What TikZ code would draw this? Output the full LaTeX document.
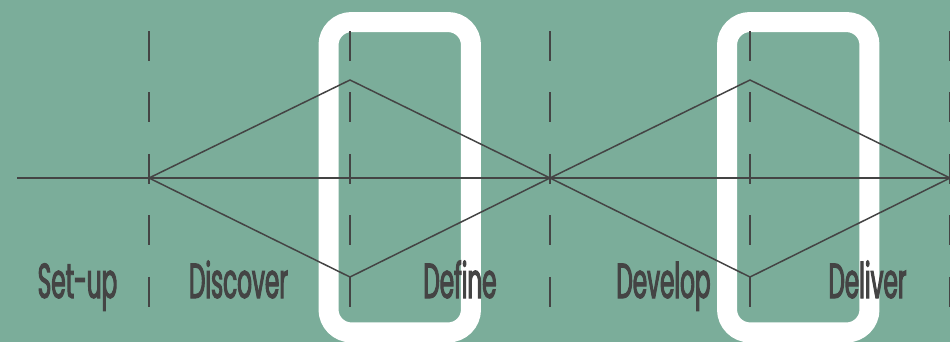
\documentclass[tikz,border=0pt]{standalone}
\usepackage{fontspec}
\setmainfont{Poppins}[FakeStretch=0.47, FakeBold=2]
\definecolor{bggreen}{HTML}{7BAD9A}
\definecolor{inkgray}{HTML}{444444}
\begin{document}
\begin{tikzpicture}[
  x=0.02cm, y=-0.02cm,
  line/.style={draw=inkgray, line width=0.85pt},
  divider/.style={line, dash pattern=on 0.6cm off 0.63cm},
  focus/.style={draw=white, line width=0.4cm, rounded corners=0.46cm, minimum width=2.85cm, minimum height=6.21cm, inner sep=0pt},
  phase/.style={anchor=base, text=inkgray, font=\fontsize{28}{30}\selectfont, inner sep=0pt}
]

  % Background
  \fill[bggreen] (0,0) rectangle (950,342);
  \useasboundingbox (0,0) rectangle (950,342);
  \clip (0,0) rectangle (950,342);

  % Focus frames
  \node[focus] (defineframe) at (399.75,177.25) {};
  \node[focus] (deliverframe) at (798.25,177.25) {};

  % Points
  \coordinate (start) at (17,178);
  \coordinate (open1) at (149,178);
  \coordinate (top1) at (350,80);
  \coordinate (bottom1) at (350,277);
  \coordinate (mid) at (550,178);
  \coordinate (top2) at (750,80);
  \coordinate (bottom2) at (750,277);
  \coordinate (close2) at (950,178);

  % Dividers
  \foreach \xpos in {149,350,550,750,950}
    \draw[divider] (\xpos,31) -- (\xpos,308);

  % Axis and diamonds
  \draw[line] (start) -- (close2);
  \draw[line, line join=miter] (open1) -- (top1) -- (mid) -- (bottom1) -- cycle;
  \draw[line, line join=miter] (mid) -- (top2) -- (close2) -- (bottom2) -- cycle;

  % Phases
  \node[phase] (setup) at (77.5,298) {Set-up};
  \node[phase] (discover) at (238.5,298) {Discover};
  \node[phase] (define) at (460,298) {Define};
  \node[phase] (develop) at (663.5,298) {Develop};
  \node[phase] (deliver) at (867.5,298) {Deliver};

\end{tikzpicture}
\end{document}
